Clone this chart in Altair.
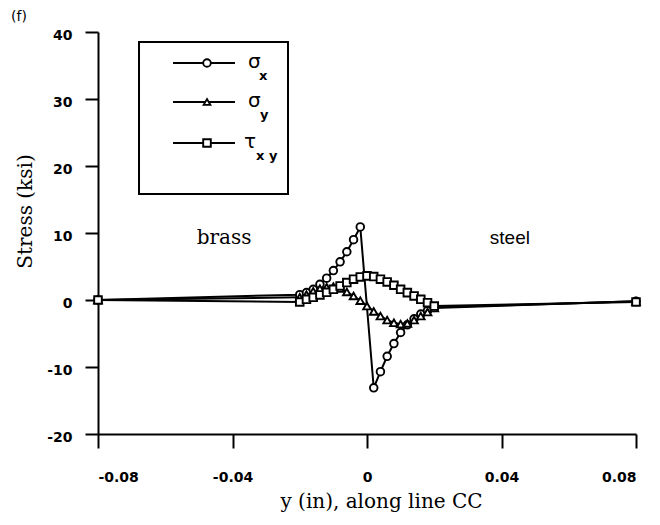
import altair as alt
import pandas as pd

# ---- data (y in inches, stress in ksi) ----
x_sigma_x = [-0.08, -0.020, -0.018, -0.016, -0.014, -0.012, -0.010, -0.008, -0.006, -0.004, -0.002,
             0.002, 0.004, 0.006, 0.008, 0.010, 0.012, 0.014, 0.016, 0.018, 0.020, 0.08]
sigma_x = [0.0, 0.8, 1.1, 1.6, 2.35, 3.25, 4.4, 5.7, 7.2, 9.0, 10.9,
           -13.1, -10.7, -8.4, -6.5, -4.85, -3.7, -2.8, -2.1, -1.6, -1.1, -0.2]

x_full = [-0.08, -0.020, -0.018, -0.016, -0.014, -0.012, -0.010, -0.008, -0.006, -0.004, -0.002,
          0.000, 0.002, 0.004, 0.006, 0.008, 0.010, 0.012, 0.014, 0.016, 0.018, 0.020, 0.08]
sigma_y = [0.0, 0.4, 0.8, 1.3, 1.7, 1.9, 2.0, 1.7, 1.2, 0.6, -0.1,
           -0.9, -1.7, -2.4, -3.0, -3.4, -3.6, -3.5, -3.0, -2.4, -1.8, -1.2, -0.2]
tau_xy = [0.0, -0.3, 0.1, 0.4, 0.75, 1.15, 1.6, 2.1, 2.6, 3.1, 3.45,
          3.6, 3.5, 3.1, 2.7, 2.2, 1.6, 1.1, 0.6, 0.1, -0.4, -0.9, -0.3]

series_names = ["sigma_x", "sigma_y", "tau_xy"]
series_shapes = ["circle", "triangle-up", "square"]
x_ticks = [-0.08, -0.04, 0, 0.04, 0.08]
y_ticks = [-20, -10, 0, 10, 20, 30, 40]

annot_labels = ["brass", "steel"]
annot_x = [-0.0425, 0.0425]
annot_y = [9.25, 9.25]

# ---- build long table ----
rows = []
for xv, v in zip(x_sigma_x, sigma_x):
    rows.append({"x": xv, "stress": v, "series": "sigma_x"})
for xv, v in zip(x_full, sigma_y):
    rows.append({"x": xv, "stress": v, "series": "sigma_y"})
for xv, v in zip(x_full, tau_xy):
    rows.append({"x": xv, "stress": v, "series": "tau_xy"})
df = pd.DataFrame(rows)

SANS = "DejaVu Sans"
SERIF = "DejaVu Serif"
MINUS = "\u2212"

X = alt.X("x:Q",
          scale=alt.Scale(domain=[-0.08, 0.08], nice=False, zero=False),
          axis=alt.Axis(values=x_ticks, tickSize=14, tickWidth=2, domainWidth=2,
                        labelPadding=22, labelFont=SANS, labelFontSize=14,
                        labelFontWeight="bold", labelColor="black",
                        labelExpr="datum.value == 0 ? '0' : replace(format(datum.value, '.2f'), '" + MINUS + "', '-')",
                        title="y (in), along line CC", titleFont=SERIF, titleFontSize=20,
                        titleFontWeight="normal", titleColor="black",
                        titleBaseline="alphabetic", titleY=73, titleX=283, titleAlign="center",
                        grid=False, domainColor="black", tickColor="black"))
Y = alt.Y("stress:Q",
          scale=alt.Scale(domain=[-20, 40], nice=False, zero=False),
          axis=alt.Axis(values=y_ticks, tickSize=13, tickWidth=2, domainWidth=2,
                        labelPadding=13, labelOffset=3, labelFont=SANS, labelFontSize=14,
                        labelFontWeight="bold", labelColor="black",
                        labelExpr="replace(format(datum.value, 'd'), '" + MINUS + "', '-')",
                        title="Stress (ksi)", titleFont=SERIF, titleFontSize=20,
                        titleFontWeight="normal", titleColor="black",
                        titleBaseline="alphabetic", titleX=-67, titleY=179,
                        titleAlign="center", grid=False,
                        domainColor="black", tickColor="black"))

lines = alt.Chart(df).mark_line(color="black", strokeWidth=2).encode(
    x=X, y=Y, detail="series:N", order="x:Q")

points = alt.Chart(df).mark_point(filled=True, fill="white", stroke="black",
                                  strokeWidth=1.9, size=58, opacity=1).encode(
    x=X, y=Y,
    shape=alt.Shape("series:N", scale=alt.Scale(domain=series_names, range=series_shapes),
                    legend=None))

ann_df = pd.DataFrame({"label": annot_labels, "x": annot_x, "stress": annot_y})
brass = alt.Chart(ann_df[ann_df.label == "brass"]).mark_text(
    font=SERIF, fontSize=20, color="black", baseline="middle").encode(
    x="x:Q", y="stress:Q", text="label:N")
steel = alt.Chart(ann_df[ann_df.label == "steel"]).mark_text(
    font="Liberation Sans", fontSize=19, color="black", baseline="middle").encode(
    x="x:Q", y="stress:Q", text="label:N")

one = pd.DataFrame({"k": [0]})
f_label = alt.Chart(one).mark_text(font=SANS, fontSize=14, color="black",
                                   align="center", baseline="middle").encode(
    x=alt.value(-79), y=alt.value(-15), text=alt.value("(f)"))

# ---- hand-drawn legend box (as in the original figure) ----
legend_layers = [
    alt.Chart(one).mark_rect(fill="white", stroke="black", strokeWidth=2).encode(
        x=alt.value(41), x2=alt.value(190), y=alt.value(10), y2=alt.value(162))
]
row_y = [31, 70, 111]
main_sym = ["\u03c3", "\u03c3", "\u03c4"]
main_x = [150, 150, 146]
sub_txt = ["x", "y", "x y"]
sub_x = [161, 162, 158]
sub_y = [44, 83, 124]
for i, name in enumerate(series_names):
    legend_layers.append(alt.Chart(one).mark_rule(color="black", strokeWidth=2).encode(
        x=alt.value(75), x2=alt.value(137), y=alt.value(row_y[i])))
    legend_layers.append(alt.Chart(one).mark_point(
        filled=True, fill="white", stroke="black", strokeWidth=1.9,
        size=58 if i != 1 else 44, opacity=1).encode(
        x=alt.value(109), y=alt.value(row_y[i]), shape=alt.value(series_shapes[i])))
    legend_layers.append(alt.Chart(one).mark_text(
        font=SANS, fontSize=20, color="black", align="left", baseline="middle").encode(
        x=alt.value(main_x[i]), y=alt.value(row_y[i] - 1), text=alt.value(main_sym[i])))
    legend_layers.append(alt.Chart(one).mark_text(
        font=SANS, fontSize=13, fontWeight="bold", color="black", align="left",
        baseline="middle").encode(
        x=alt.value(sub_x[i]), y=alt.value(sub_y[i]), text=alt.value(sub_txt[i])))

chart = alt.layer(lines, points, brass, steel, f_label, *legend_layers).properties(
    width=538, height=402,
    autosize=alt.AutoSizeParams(type="none"),
    padding={"left": 90, "top": 24, "right": 16, "bottom": 83},
    background="white",
).configure_view(stroke=None)

chart.save("out.html", embed_options={"renderer": "svg", "actions": False})
